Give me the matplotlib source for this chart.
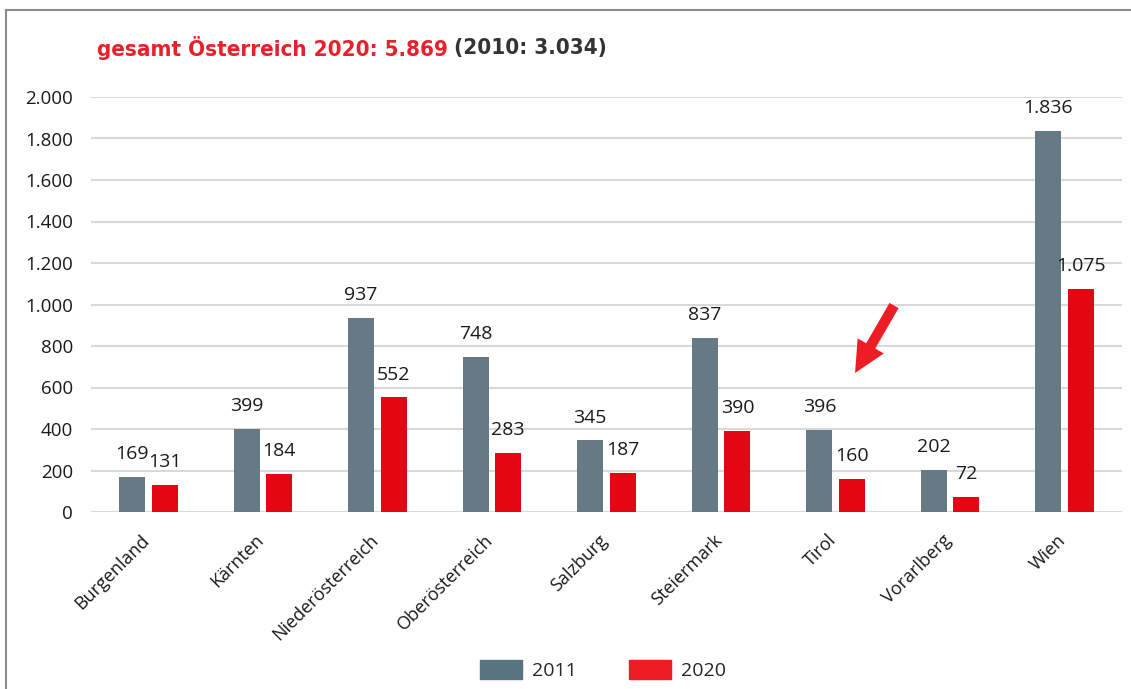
import matplotlib
matplotlib.use("Agg")
import matplotlib.pyplot as plt
from matplotlib.lines import Line2D
from matplotlib.patches import Patch
from matplotlib.transforms import ScaledTranslation
import numpy as np

categories = ["Burgenland", "Kärnten", "Niederösterreich", "Oberösterreich",
              "Salzburg", "Steiermark", "Tirol", "Vorarlberg", "Wien"]
values_2011 = [169, 399, 937, 748, 345, 837, 396, 202, 1836]
values_2020 = [131, 184, 552, 283, 187, 390, 160, 72, 1075]
series_labels = ["2011", "2020"]
yticks = [0, 200, 400, 600, 800, 1000, 1200, 1400, 1600, 1800, 2000]

GRAY = "#657a85"
RED = "#e30613"
LEG_GRAY = "#587480"
LEG_RED = "#ee1c25"
TXT = "#1a1a1a"

def fmt(v):
    return f"{v:,}".replace(",", ".")

plt.rcParams['font.family'] = ['Open Sans', 'DejaVu Sans']

fig = plt.figure(figsize=(11.31, 6.89), dpi=100)
ax = fig.add_axes([91/1131, 1-512/689, 1031/1131, 415/689])

x = np.arange(len(categories))
w = 0.227
off = 0.142
b1 = ax.bar(x - off, values_2011, w, color=GRAY, zorder=3)
b2 = ax.bar(x + off, values_2020, w, color=RED, zorder=3)

for bars, vals in ((b1, values_2011), (b2, values_2020)):
    for rect, v in zip(bars, vals):
        ax.annotate(fmt(v), (rect.get_x() + rect.get_width()/2, v),
                    xytext=(0, 10), textcoords="offset points",
                    ha="center", va="bottom", fontsize=14, color=TXT)

ax.set_xlim(-0.5, len(categories) - 0.5)
ax.set_ylim(0, 2000)
ax.set_yticks(yticks)
ax.set_yticklabels([fmt(t) for t in yticks], fontsize=13.5, color=TXT)
ax.yaxis.grid(True, color="#d9d9d9", linewidth=1.5, zorder=0)
ax.set_axisbelow(True)
ax.tick_params(axis="y", length=0, pad=13)
ax.tick_params(axis="x", length=0, pad=8)
ax.set_xticks(x)
ax.set_xticklabels(categories, rotation=45, ha="right", va="top",
                   rotation_mode="anchor", fontsize=13, color=TXT)
shift = ScaledTranslation(-8/100, -8/100, fig.dpi_scale_trans)
for lab in ax.get_xticklabels():
    lab.set_transform(lab.get_transform() + shift)
for s in ax.spines.values():
    s.set_visible(False)

# arrow annotation
ax.annotate("", xy=(6.17, 670), xytext=(6.51, 995),
            arrowprops=dict(arrowstyle="simple,head_length=1.5,head_width=1.45,tail_width=0.5",
                            color=LEG_RED, lw=0, mutation_scale=15, shrinkA=0, shrinkB=0))

# title
t1 = fig.text(97/1131, 1-48/689, "gesamt Österreich 2020: 5.869", color="#e8202a",
              fontsize=16, fontweight="bold", fontstretch="condensed", va="center", ha="left",
              family=['DejaVu Sans'])
fig.canvas.draw()
bb = t1.get_window_extent()
fig.text((bb.x1 + 6)/1131, 1-48/689, "(2010: 3.034)", color="#333333",
         fontsize=16, fontweight="bold", fontstretch="condensed", va="center", ha="left",
         family=['DejaVu Sans'])

# legend
handles = [Patch(color=LEG_GRAY), Patch(color=LEG_RED)]
leg = fig.legend(handles, series_labels, loc="center", bbox_to_anchor=(603/1131, 1-670/689),
                 ncol=2, frameon=False, fontsize=14, handlelength=2.15, handleheight=1.15,
                 columnspacing=2.7, handletextpad=0.5)
for t in leg.get_texts():
    t.set_color("#262626")

# frame border
fig.add_artist(Line2D([6/1131, 6/1131], [0, 1-10/689], color="#8c8c8c", lw=1.5,
                      transform=fig.transFigure))
fig.add_artist(Line2D([6/1131, 1], [1-10/689, 1-10/689], color="#8c8c8c", lw=1.5,
                      transform=fig.transFigure))

fig.savefig("out.png", dpi=100)
